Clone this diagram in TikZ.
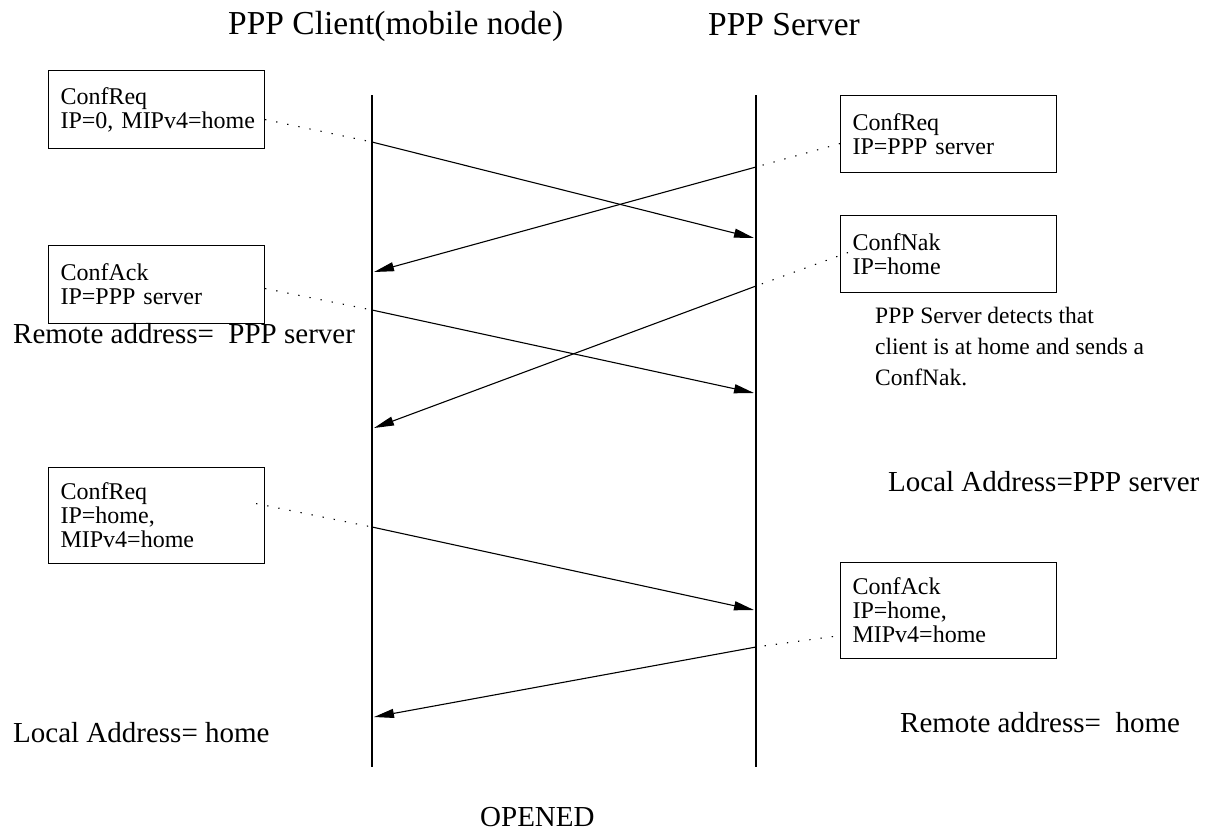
\documentclass[tikz,border=0pt]{standalone}
\usepackage{fontspec}
\setmainfont{Liberation Serif}
\usetikzlibrary{arrows.meta}
\begin{document}
\begin{tikzpicture}[x=1pt,y=-1pt,
  msgbox/.style={draw, line width=1.1pt, anchor=north west, align=left,
    text width=192pt, inner xsep=12pt, inner ysep=0pt,
    font=\fontsize{24}{24}\selectfont},
  lifeline/.style={line width=2.4pt},
  msg/.style={line width=1.1pt, -{Triangle[length=20pt,width=9pt]}},
  lead/.style={line width=1.1pt, dash pattern=on 1.3pt off 10pt},
  title/.style={anchor=base west, inner sep=0pt, font=\fontsize{33.5}{38}\selectfont},
  label/.style={anchor=base west, inner sep=0pt, font=\fontsize{29}{34}\selectfont},
  note/.style={anchor=base west, inner sep=0pt, align=left, font=\fontsize{23.5}{31}\selectfont}]
\useasboundingbox (0,0) rectangle (1209,830);

% headings
\node[title] (tclient) at (228,34) {PPP Client(mobile node)};
\node[title] (tserver) at (708,35) {PPP Server};

% lifelines
\coordinate (ctop) at (372,95);
\coordinate (cbot) at (372,767);
\coordinate (stop) at (756,95);
\coordinate (sbot) at (756,767);
\draw[lifeline] (ctop) -- (cbot);
\draw[lifeline] (stop) -- (sbot);

% message boxes, client side
\node[msgbox, minimum height=78pt] (b1) at (48,70) {ConfReq\\\mbox{IP=0, MIPv4=home}};
\node[msgbox, minimum height=78pt] (b2) at (48,245) {ConfAck\\\mbox{IP=PPP server}};
\node[msgbox, minimum height=96pt] (b3) at (48,467) {ConfReq\\IP=home,\\MIPv4=home};

% message boxes, server side
\node[msgbox, minimum height=77pt] (s1) at (840,95) {ConfReq\\\mbox{IP=PPP server}};
\node[msgbox, minimum height=77pt] (s2) at (840,215) {ConfNak\\IP=home};
\node[msgbox, minimum height=96pt] (s3) at (840,562) {ConfAck\\IP=home,\\MIPv4=home};

% send / receive points on the lifelines
\coordinate (c1) at (372,142);
\coordinate (r1) at (754,238);
\coordinate (c2) at (756,167);
\coordinate (r2) at (374,272);
\coordinate (c3) at (372,310);
\coordinate (r3) at (754,393);
\coordinate (c4) at (756,286);
\coordinate (r4) at (374,428);
\coordinate (c5) at (372,527);
\coordinate (r5) at (754,610);
\coordinate (c6) at (756,647);
\coordinate (r6) at (374,717);

% dotted leaders from the boxes
\draw[lead] ([yshift=-10pt]b1.east) -- (c1);
\draw[lead] ([yshift=-9.5pt]s1.west) -- (c2);
\draw[lead] ([yshift=-4pt]b2.east) -- (c3);
\draw[lead] ([xshift=8pt,yshift=1.5pt]s2.west) -- (c4);
\draw[lead] ([xshift=-9pt,yshift=12pt]b3.east) -- (c5);
\draw[lead] ([xshift=-7pt,yshift=-26pt]s3.west) -- (c6);

% messages
\draw[msg] (c1) -- (r1);
\draw[msg] (c2) -- (r2);
\draw[msg] (c3) -- (r3);
\draw[msg] (c4) -- (r4);
\draw[msg] (c5) -- (r5);
\draw[msg] (c6) -- (r6);

% address notes
\node[label] (remc) at (13,343) {Remote address=\ \ PPP server};
\node[note] (detect) at (875,385) {PPP Server detects that\\client is at home and sends a\\ConfNak.};
\node[label] (locs) at (888,491) {Local Address=PPP server};
\node[label] (rems) at (900,732) {Remote address=\ \ home};
\node[label] (locc) at (13,742) {Local Address= home};
\node[label] (opened) at (480,826) {OPENED};
\end{tikzpicture}
\end{document}
